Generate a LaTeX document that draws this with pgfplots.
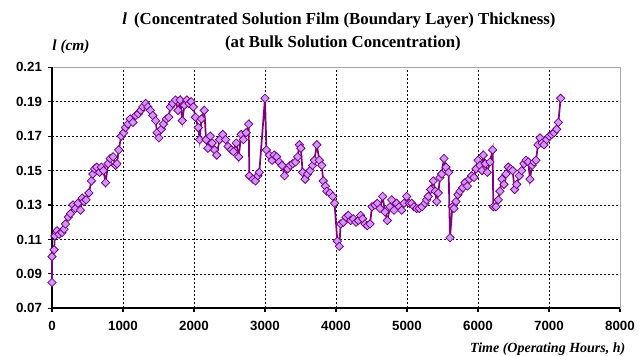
\documentclass[border=0pt]{standalone}
\usepackage{fontspec}
\setmainfont{Liberation Serif}
\setsansfont{Liberation Sans}
\usepackage{pgfplots}
\pgfplotsset{compat=1.18}
\definecolor{linepurple}{HTML}{800080}
\definecolor{fillpurple}{HTML}{CC99FF}
\begin{document}
\begin{tikzpicture}[x=0.75pt,y=0.75pt]
\useasboundingbox (-52,-46.7) rectangle (592,308.3);
\begin{axis}[
  at={(0,0)}, anchor=south west,
  scale only axis, width=426pt, height=180.75pt,
  xmin=0, xmax=8000, ymin=0.07, ymax=0.21,
  xtick={0,1000,...,8000},
  ytick={0.07,0.09,...,0.211},
  xtick pos=bottom, ytick pos=left,
  tick align=outside, major tick length=3pt,
  tick style={black, line width=0.8pt},
  grid=major,
  major grid style={black, line width=0.5pt, dash pattern=on 1.5pt off 1.5pt},
  axis line style={gray!70, line width=0.6pt},
  ticklabel style={font=\sffamily\bfseries\fontsize{10}{12}\selectfont},
  /pgf/number format/assume math mode=true,
  xticklabel style={/pgf/number format/set thousands separator={}, yshift=-3pt},
  yticklabel style={/pgf/number format/fixed, /pgf/number format/fixed zerofill, /pgf/number format/precision=2, xshift=-1pt},
  clip=false,
]
\draw[black, line width=1.6pt] (rel axis cs:0,1) -- (rel axis cs:0,0) -- (rel axis cs:1,0);
\addplot[color=linepurple, line width=1.3pt, mark=square*, mark size=2.2pt,
  mark options={rotate=45, fill=fillpurple, draw=linepurple, line width=0.6pt}] coordinates {
(0,0.085) (0,0.100) (30,0.104) (40,0.112) (70,0.115) (100,0.113) (140,0.114) (170,0.116)
(190,0.119) (230,0.123) (260,0.125) (295,0.130) (330,0.128) (365,0.131) (400,0.127)
(425,0.134) (450,0.132) (480,0.133) (520,0.137) (555,0.144) (575,0.148) (600,0.151)
(630,0.152) (670,0.149) (695,0.152) (725,0.150) (755,0.143) (790,0.154) (820,0.157)
(860,0.158) (895,0.153) (915,0.154) (940,0.162) (975,0.170) (1010,0.172) (1035,0.175)
(1070,0.177) (1100,0.180) (1140,0.178) (1180,0.182) (1215,0.183) (1250,0.185) (1280,0.187)
(1320,0.189) (1350,0.187) (1385,0.185) (1420,0.182) (1460,0.179) (1480,0.172) (1505,0.169)
(1540,0.174) (1570,0.177) (1610,0.180) (1645,0.181) (1665,0.187) (1700,0.189) (1740,0.191)
(1775,0.185) (1805,0.191) (1835,0.179) (1865,0.188) (1900,0.191) (1930,0.189) (1960,0.190)
(1990,0.187) (2020,0.181) (2060,0.175) (2080,0.168) (2105,0.180) (2145,0.185) (2170,0.168)
(2195,0.163) (2230,0.170) (2255,0.166) (2290,0.162) (2320,0.159) (2360,0.168) (2405,0.171)
(2445,0.168) (2480,0.164) (2525,0.162) (2555,0.161) (2595,0.166) (2630,0.158) (2665,0.171)
(2695,0.168) (2735,0.172) (2770,0.177) (2780,0.147) (2830,0.145) (2865,0.144) (2900,0.147)
(2920,0.149) (3000,0.192) (3020,0.162) (3060,0.159) (3100,0.156) (3130,0.159) (3165,0.158)
(3200,0.155) (3240,0.153) (3275,0.147) (3320,0.151) (3355,0.153) (3390,0.154) (3430,0.155)
(3460,0.158) (3485,0.165) (3505,0.163) (3530,0.149) (3565,0.145) (3600,0.148) (3635,0.150)
(3670,0.153) (3695,0.156) (3730,0.165) (3765,0.156) (3800,0.153) (3820,0.144) (3850,0.141)
(3870,0.138) (3915,0.137) (3953,0.135) (3980,0.131) (4019,0.109) (4047,0.106) (4066,0.119)
(4103,0.120) (4141,0.123) (4174,0.124) (4207,0.121) (4244,0.122) (4282,0.120) (4315,0.121)
(4347,0.124) (4376,0.122) (4408,0.119) (4441,0.118) (4479,0.119) (4507,0.129) (4549,0.130)
(4582,0.131) (4620,0.128) (4657,0.135) (4690,0.126) (4723,0.121) (4761,0.129) (4784,0.133)
(4817,0.127) (4854,0.131) (4892,0.129) (4925,0.127) (4958,0.131) (4995,0.135) (5033,0.131)
(5066,0.131) (5099,0.129) (5136,0.128) (5174,0.128) (5211,0.129) (5254,0.131) (5277,0.133)
(5300,0.135) (5333,0.139) (5371,0.144) (5399,0.138) (5418,0.132) (5441,0.137) (5465,0.146)
(5488,0.148) (5521,0.157) (5549,0.152) (5587,0.149) (5606,0.111) (5639,0.129) (5662,0.128)
(5690,0.132) (5718,0.136) (5747,0.138) (5784,0.140) (5817,0.143) (5850,0.141) (5878,0.145)
(5911,0.147) (5944,0.146) (5972,0.151) (6000,0.156) (6028,0.153) (6056,0.150) (6075,0.159)
(6103,0.154) (6131,0.149) (6169,0.155) (6206,0.162) (6216,0.129) (6253,0.129) (6286,0.133)
(6309,0.138) (6338,0.145) (6366,0.142) (6394,0.148) (6427,0.152) (6460,0.151) (6488,0.150)
(6516,0.139) (6545,0.142) (6582,0.147) (6615,0.150) (6648,0.154) (6676,0.156) (6709,0.155)
(6732,0.145) (6761,0.153) (6789,0.155) (6817,0.156) (6845,0.165) (6873,0.169) (6902,0.166)
(6930,0.165) (6967,0.168) (7005,0.170) (7038,0.171) (7071,0.172) (7108,0.174) (7132,0.178)
(7164,0.192)
};
\end{axis}
\node[font=\bfseries\fontsize{12.6}{15}\selectfont, anchor=base] at (287,284.3)
  {\textit{l}\, (Concentrated Solution Film (Boundary Layer) Thickness)};
\node[font=\bfseries\fontsize{12.6}{15}\selectfont, anchor=base] at (291,261.3)
  {(at Bulk Solution Concentration)};
\node[font=\bfseries\itshape\fontsize{11.5}{13}\selectfont, anchor=base] at (19,258.3) {l (cm)};
\node[font=\bfseries\itshape\fontsize{10.5}{13}\selectfont, anchor=base east] at (578,-44) {Time (Operating Hours, h)};
\end{tikzpicture}
\end{document}
